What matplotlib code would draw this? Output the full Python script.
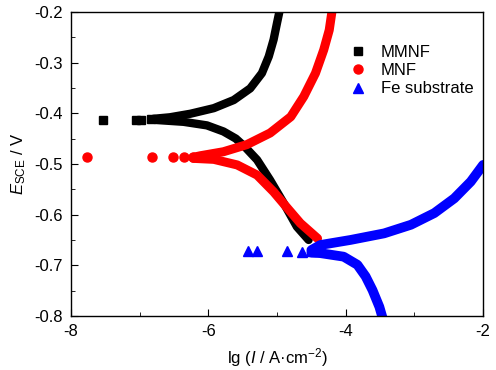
import matplotlib
matplotlib.use('Agg')
import matplotlib.pyplot as plt
from matplotlib.ticker import MultipleLocator

plt.rcParams['font.family'] = 'Liberation Sans'
plt.rcParams['mathtext.fontset'] = 'custom'
plt.rcParams['mathtext.rm'] = 'Liberation Sans'
plt.rcParams['mathtext.it'] = 'Liberation Sans:italic'

# MMNF (black squares): sparse points near Ecorr, then anodic and cathodic branches
mmnf_sparse_x = [-7.53, -7.05, -6.98, -6.83]
mmnf_sparse_y = [-0.413, -0.413, -0.413, -0.412]
mmnf_anodic_x = [-6.80, -6.56, -6.26, -5.92, -5.63, -5.39, -5.22, -5.12, -5.05, -5.00, -4.95]
mmnf_anodic_y = [-0.411, -0.408, -0.401, -0.390, -0.374, -0.351, -0.321, -0.288, -0.255, -0.222, -0.190]
mmnf_cathodic_x = [-6.80, -6.36, -6.02, -5.78, -5.60, -5.47, -5.29, -5.10, -4.90, -4.71, -4.54]
mmnf_cathodic_y = [-0.413, -0.417, -0.424, -0.436, -0.450, -0.466, -0.492, -0.532, -0.578, -0.624, -0.650]

# MNF (red circles)
mnf_sparse_x = [-7.77, -6.82, -6.51, -6.36, -6.22]
mnf_sparse_y = [-0.487, -0.487, -0.487, -0.487, -0.487]
mnf_anodic_x = [-6.22, -6.12, -5.78, -5.44, -5.10, -4.80, -4.61, -4.44, -4.32, -4.24, -4.19]
mnf_anodic_y = [-0.487, -0.484, -0.476, -0.462, -0.439, -0.407, -0.367, -0.321, -0.275, -0.236, -0.190]
mnf_cathodic_x = [-6.22, -5.92, -5.58, -5.29, -5.05, -4.85, -4.66, -4.41]
mnf_cathodic_y = [-0.489, -0.491, -0.502, -0.522, -0.555, -0.587, -0.617, -0.647]

# Fe substrate (blue triangles)
fe_sparse_x = [-5.42, -5.29, -4.85, -4.63, -4.50]
fe_sparse_y = [-0.672, -0.672, -0.672, -0.673, -0.672]
fe_anodic_x = [-4.50, -4.37, -3.93, -3.44, -3.05, -2.71, -2.42, -2.18, -2.00]
fe_anodic_y = [-0.670, -0.660, -0.650, -0.637, -0.620, -0.597, -0.568, -0.535, -0.502]
fe_cathodic_x = [-4.50, -4.37, -4.03, -3.83, -3.71, -3.61, -3.51, -3.45]
fe_cathodic_y = [-0.675, -0.676, -0.683, -0.699, -0.722, -0.749, -0.782, -0.810]

fig = plt.figure(figsize=(4.96, 3.70), dpi=100)
ax = fig.add_axes([0.143, 0.146, 0.831, 0.822])

series = [
    ('MMNF', 'black', 's', 5.5, 6.0, mmnf_sparse_x, mmnf_sparse_y, mmnf_anodic_x, mmnf_anodic_y,
     mmnf_cathodic_x, mmnf_cathodic_y),
    ('MNF', 'red', 'o', 6.5, 6.5, mnf_sparse_x, mnf_sparse_y, mnf_anodic_x, mnf_anodic_y,
     mnf_cathodic_x, mnf_cathodic_y),
    ('Fe substrate', 'blue', '^', 7.5, 7.0, fe_sparse_x, fe_sparse_y, fe_anodic_x, fe_anodic_y,
     fe_cathodic_x, fe_cathodic_y),
]

for label, color, marker, ms, lw, sx, sy, bx, by, cx, cy in series:
    # dense measurement points merge into thick bands
    ax.plot(bx, by, color=color, lw=lw, solid_capstyle='round', solid_joinstyle='round')
    ax.plot(cx, cy, color=color, lw=lw, solid_capstyle='round', solid_joinstyle='round')
    ax.plot(sx, sy, ls='none', marker=marker, ms=ms, color=color, mec=color, label=label)

ax.set_xlim(-8, -2)
ax.set_ylim(-0.8, -0.2)
ax.xaxis.set_major_locator(MultipleLocator(2))
ax.xaxis.set_minor_locator(MultipleLocator(1))
ax.yaxis.set_major_locator(MultipleLocator(0.1))
ax.yaxis.set_minor_locator(MultipleLocator(0.05))
ax.tick_params(which='both', direction='in', labelsize=12, top=False, right=False)
ax.tick_params(which='major', length=5, pad=6)
ax.tick_params(which='minor', length=3)
ax.set_xticks(ax.get_xticks())
ax.set_xticklabels([f'{v:g}' for v in ax.get_xticks()])
ax.set_yticks(ax.get_yticks())
ax.set_yticklabels([f'{v:.1f}' for v in ax.get_yticks()])
ax.set_xlim(-8, -2)
ax.set_ylim(-0.8, -0.2)
for s in ax.spines.values():
    s.set_linewidth(1.0)

ax.set_xlabel('lg ($I$ / A·cm$^{-2}$)', fontsize=12, labelpad=5)
ax.set_ylabel('$E_{\\mathrm{SCE}}$ / V', fontsize=12, labelpad=4)

ax.legend(loc='upper right', bbox_to_anchor=(1.005, 0.93), frameon=False, fontsize=12,
          handletextpad=0.8, labelspacing=0.2, handlelength=1.2, borderpad=0.2)

fig.savefig('out.png', dpi=100)
